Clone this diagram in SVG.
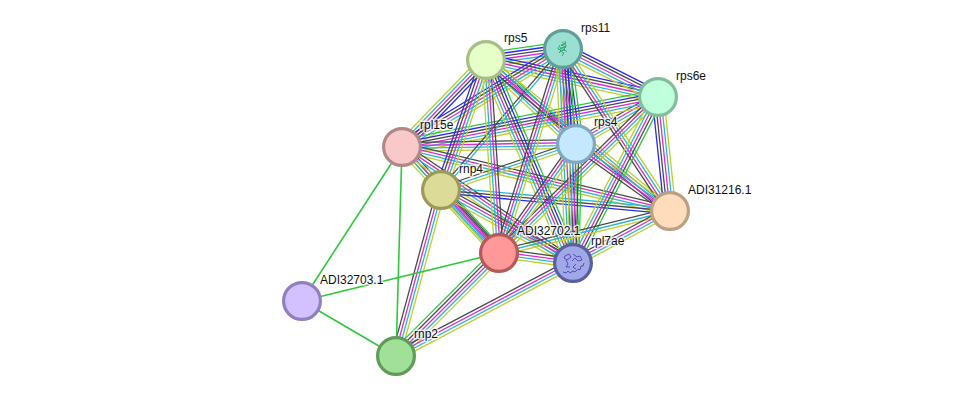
<svg xmlns="http://www.w3.org/2000/svg" width="976" height="401" viewBox="0 0 976 401">
<style>
text{font-family:"Liberation Sans",Arial,sans-serif;font-size:12px;fill:#111;stroke:#fff;stroke-width:3px;stroke-opacity:.75;paint-order:stroke;stroke-linejoin:round}
line{vector-effect:non-scaling-stroke;stroke-width:1.3px;fill:none}
.g{stroke:#2fc83c}.u{stroke:#2a2af0}.k{stroke:#4a4a4a}.m{stroke:#d92bd9}.c{stroke:#2cb6d2}.y{stroke:#bdd02c}
line.single{stroke-width:1.6px}
circle{stroke-width:3.2px}
.fold{fill:none;stroke-width:.8px}
</style>
<defs>
<!-- edge bundles in unit space: x runs along the edge, y is the offset in pixels -->
<g id="e6">
<line class="g" x1="0" x2="1" y1="-7.2" y2="-7.2"/><line class="u" x1="0" x2="1" y1="-4.3" y2="-4.3"/><line class="k" x1="0" x2="1" y1="-1.4" y2="-1.4"/><line class="m" x1="0" x2="1" y1="1.4" y2="1.4"/><line class="c" x1="0" x2="1" y1="4.3" y2="4.3"/><line class="y" x1="0" x2="1" y1="7.2" y2="7.2"/>
</g>
<g id="e5">
<line class="u" x1="0" x2="1" y1="-5.8" y2="-5.8"/><line class="k" x1="0" x2="1" y1="-2.9" y2="-2.9"/><line class="m" x1="0" x2="1" y1="0" y2="0"/><line class="c" x1="0" x2="1" y1="2.9" y2="2.9"/><line class="y" x1="0" x2="1" y1="5.8" y2="5.8"/>
</g>
<g id="e5g">
<line class="g" x1="0" x2="1" y1="-5.8" y2="-5.8"/><line class="k" x1="0" x2="1" y1="-2.9" y2="-2.9"/><line class="m" x1="0" x2="1" y1="0" y2="0"/><line class="c" x1="0" x2="1" y1="2.9" y2="2.9"/><line class="y" x1="0" x2="1" y1="5.8" y2="5.8"/>
</g>
<g id="e4">
<line class="k" x1="0" x2="1" y1="-4.3" y2="-4.3"/><line class="m" x1="0" x2="1" y1="-1.4" y2="-1.4"/><line class="c" x1="0" x2="1" y1="1.4" y2="1.4"/><line class="y" x1="0" x2="1" y1="4.3" y2="4.3"/>
</g>
<g id="e3">
<line class="k" x1="0" x2="1" y1="-2.9" y2="-2.9"/><line class="c" x1="0" x2="1" y1="0" y2="0"/><line class="y" x1="0" x2="1" y1="2.9" y2="2.9"/>
</g>
<g id="e3u">
<line class="c" x1="0" x2="1" y1="-2.9" y2="-2.9"/><line class="k" x1="0" x2="1" y1="0" y2="0"/><line class="u" x1="0" x2="1" y1="2.9" y2="2.9"/>
</g>
<g id="e2">
<line class="k" x1="0" x2="1" y1="-1.4" y2="-1.4"/><line class="c" x1="0" x2="1" y1="1.4" y2="1.4"/>
</g>
<g id="e2y">
<line class="g" x1="0" x2="1" y1="-1.4" y2="-1.4"/><line class="y" x1="0" x2="1" y1="1.4" y2="1.4"/>
</g>
</defs>

<g id="connectors">
<use href="#e6" transform="matrix(77 -11 .141 .99 486 60)"/>
<use href="#e5" transform="matrix(172 37 -.21 .978 486 60)"/>
<use href="#e5" transform="matrix(95 48 -.451 .893 563 49)"/>
<use href="#e5g" transform="matrix(90 84 -.682 .731 486 60)"/>
<use href="#e6" transform="matrix(13 95 -.991 .136 563 49)"/>
<use href="#e4" transform="matrix(82 -47 .497 .868 576 144)"/>
<use href="#e5" transform="matrix(-84 87 -.72 -.695 486 60)"/>
<use href="#e5" transform="matrix(161 -98 .52 .854 402 147)"/>
<use href="#e6" transform="matrix(256 -50 .192 .982 402 147)"/>
<use href="#e4" transform="matrix(174 -3 .017 1 402 147)"/>
<use href="#e2y" transform="matrix(39 43 -.741 .672 402 147)"/>
<use href="#e4" transform="matrix(268 64 -.232 .973 402 147)"/>
<use href="#e4" transform="matrix(97 106 -.738 .675 402 147)"/>
<use href="#e4" transform="matrix(171 116 -.561 .828 402 147)"/>
<use href="#e5" transform="matrix(45 -130 .945 .327 441 190)"/>
<use href="#e2" transform="matrix(122 -141 .756 .654 441 190)"/>
<use href="#e3" transform="matrix(135 -46 .323 .947 441 190)"/>
<use href="#e3u" transform="matrix(229 21 -.091 .996 441 190)"/>
<use href="#e5g" transform="matrix(58 63 -.736 .678 441 190)"/>
<use href="#e4" transform="matrix(132 73 -.484 .875 441 190)"/>
<use href="#e4" transform="matrix(45 -166 .965 .262 396 356)"/>
<use href="#e4" transform="matrix(13 193 -.998 .067 486 60)"/>
<use href="#e6" transform="matrix(87 203 -.919 .394 486 60)"/>
<use href="#e4" transform="matrix(-184 -151 .634 -.773 670 211)"/>
<use href="#e4" transform="matrix(64 -204 .954 .299 499 253)"/>
<use href="#e6" transform="matrix(10 214 -.999 .047 563 49)"/>
<use href="#e4" transform="matrix(-107 -162 .835 -.551 670 211)"/>
<use href="#e5" transform="matrix(-12 -114 .995 -.105 670 211)"/>
<use href="#e4" transform="matrix(159 -156 .7 .714 499 253)"/>
<use href="#e5g" transform="matrix(-85 166 -.89 -.456 658 97)"/>
<use href="#e4" transform="matrix(-94 -67 .58 -.814 670 211)"/>
<use href="#e4" transform="matrix(77 -109 .817 .577 499 253)"/>
<use href="#e5g" transform="matrix(-3 119 -1 -.025 576 144)"/>
<use href="#e3" transform="matrix(171 -42 .239 .971 499 253)"/>
<use href="#e4" transform="matrix(97 -52 .473 .881 573 263)"/>
<use href="#e4" transform="matrix(74 10 -.134 .991 499 253)"/>
<use href="#e5g" transform="matrix(103 -103 .707 .707 396 356)"/>
<use href="#e4" transform="matrix(177 -93 .465 .885 396 356)"/>
<line class="g single" x1="402" y1="147" x2="302" y2="301"/>
<line class="g single" x1="402" y1="147" x2="396" y2="356"/>
<line class="g single" x1="302" y1="301" x2="499" y2="253"/>
<line class="g single" x1="302" y1="301" x2="396" y2="356"/>
</g>

<g id="rps5"><circle cx="486" cy="60" r="18.4" fill="#e6ffc8" stroke="#a5c084"/></g>
<g id="rps11"><circle cx="563" cy="49" r="18.4" fill="#9bdfd2" stroke="#5f9f98"/>
<path class="fold" stroke="#1f9a5a" d="M562 42l3 2-4 1 5 2-6 1 5 2-5 1 4 2-2 3M560 45l-2 4 3 1-2 3M565 41l1 5-2 3 3 3"/></g>
<g id="rps6e"><circle cx="658" cy="97" r="18.4" fill="#c0ffdc" stroke="#7fbf9c"/></g>
<g id="rpl15e"><circle cx="402" cy="147" r="18.4" fill="#f9c9c9" stroke="#b08888"/></g>
<g id="rps4"><circle cx="576" cy="144" r="18.4" fill="#c4e8ff" stroke="#80a8c0"/></g>
<g id="rnp4"><circle cx="441" cy="190" r="18.4" fill="#dddb98" stroke="#9c9a58"/></g>
<g id="ADI31216.1"><circle cx="670" cy="211" r="18.4" fill="#ffdcbc" stroke="#bca080"/></g>
<g id="ADI32702.1"><circle cx="499" cy="253" r="18.4" fill="#ff9898" stroke="#b85858"/></g>
<g id="rpl7ae"><circle cx="573" cy="263" r="18.4" fill="#a0a8e8" stroke="#5860a0"/>
<path class="fold" stroke="#4a35b0" d="M565 256l4-2 2 3-4 3-3-2zM573 254l4 3 3-1 2 4-4 1-3-3-3 3M563 272l3 1 2-2 2 2 3-2 2 1 3-3 2 1 1-4 2 0 1-3M566 260l2 4-2 3 4 0M576 264l-3 3 3 2"/></g>
<g id="ADI32703.1"><circle cx="302" cy="301" r="18.4" fill="#d2c0ff" stroke="#9080c0"/></g>
<g id="rnp2"><circle cx="396" cy="356" r="18.4" fill="#a0e098" stroke="#609c58"/></g>

<g id="labels">
<text x="504" y="42">rps5</text>
<text x="581" y="32">rps11</text>
<text x="676" y="80">rps6e</text>
<text x="420" y="129">rpl15e</text>
<text x="594" y="126">rps4</text>
<text x="459" y="173">rnp4</text>
<text x="688" y="194">ADI31216.1</text>
<text x="517" y="235">ADI32702.1</text>
<text x="591" y="245">rpl7ae</text>
<text x="320" y="284">ADI32703.1</text>
<text x="414" y="338">rnp2</text>
</g>
</svg>
